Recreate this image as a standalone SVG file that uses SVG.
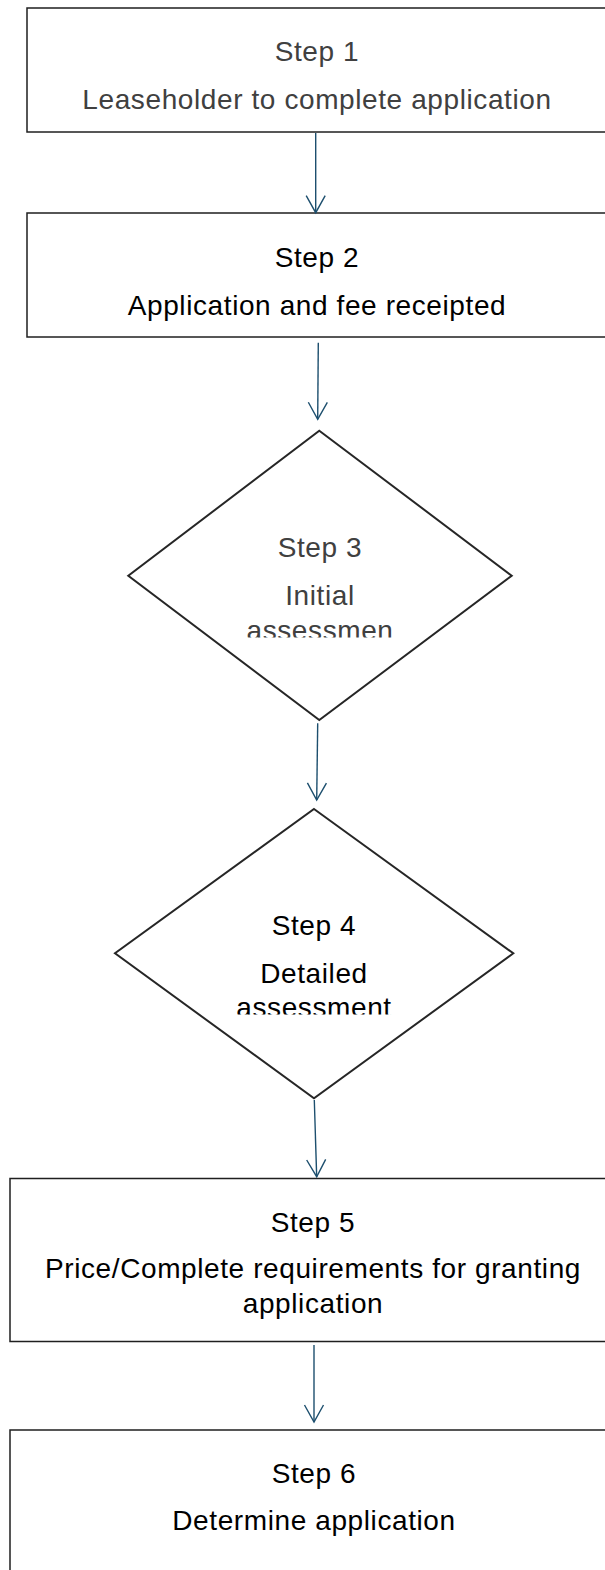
<svg xmlns="http://www.w3.org/2000/svg" width="605" height="1570" viewBox="0 0 605 1570">
<style>
.box{fill:#fff;stroke:#1f1f1f;stroke-width:1.5}
.dia{fill:#fff;stroke:#262626;stroke-width:2}
.t{font-family:"Liberation Sans",Arial,sans-serif;font-size:28px;text-anchor:middle;fill:#000;letter-spacing:0.6px}
.g{fill:#404040}
.c{fill:none;stroke:#1d4f6e;stroke-width:1.4}
</style>
<defs>
<marker id="ah" markerUnits="userSpaceOnUse" markerWidth="24" markerHeight="24" viewBox="-20 -12 24 24" refX="0" refY="0" orient="auto">
<path d="M-17,-9.5 L0,0 L-17,9.5" fill="none" stroke="#1d4f6e" stroke-width="1.4"/>
</marker>
<clipPath id="cl3"><rect x="0" y="0" width="605" height="637.5"/></clipPath>
<clipPath id="cl4"><rect x="0" y="0" width="605" height="1014.5"/></clipPath>
</defs>
<rect width="605" height="1570" fill="#fff"/>
<g id="step1">
<rect class="box" x="27" y="8" width="600" height="124"/>
<text class="t g" x="317" y="61">Step 1</text>
<text class="t g" x="317" y="109">Leaseholder to complete application</text>
</g>
<g id="step2">
<rect class="box" x="27" y="213" width="600" height="124"/>
<text class="t" x="317" y="267">Step 2</text>
<text class="t" x="317" y="315">Application and fee receipted</text>
</g>
<g id="step3">
<polygon class="dia" points="319.3,430.7 511.7,575.7 319.3,720 128.3,575.7"/>
<text class="t g" x="320" y="557">Step 3</text>
<text class="t g" x="320" y="605">Initial</text>
<text class="t g" x="320" y="640" clip-path="url(#cl3)">assessmen</text>
</g>
<g id="step4">
<polygon class="dia" points="314,809 513.3,953.3 314,1098.3 115,953.3"/>
<text class="t" x="314" y="935">Step 4</text>
<text class="t" x="314" y="983">Detailed</text>
<text class="t" x="314" y="1017" clip-path="url(#cl4)">assessment</text>
</g>
<g id="step5">
<rect class="box" x="10" y="1178.5" width="620" height="163"/>
<text class="t" x="313" y="1232">Step 5</text>
<text class="t" x="313" y="1278">Price/Complete requirements for granting</text>
<text class="t" x="313" y="1313">application</text>
</g>
<g id="step6">
<rect class="box" x="10" y="1430" width="620" height="160"/>
<text class="t" x="314" y="1483">Step 6</text>
<text class="t" x="314" y="1530">Determine application</text>
</g>
<g id="connectors">
<line class="c" x1="315.7" y1="133" x2="315.7" y2="212.7" marker-end="url(#ah)"/>
<line class="c" x1="318.3" y1="342.7" x2="317.7" y2="419.3" marker-end="url(#ah)"/>
<line class="c" x1="317.7" y1="723.3" x2="316.7" y2="800" marker-end="url(#ah)"/>
<line class="c" x1="314.3" y1="1100" x2="316.7" y2="1176.7" marker-end="url(#ah)"/>
<line class="c" x1="314" y1="1345" x2="314" y2="1422" marker-end="url(#ah)"/>
</g>
</svg>
